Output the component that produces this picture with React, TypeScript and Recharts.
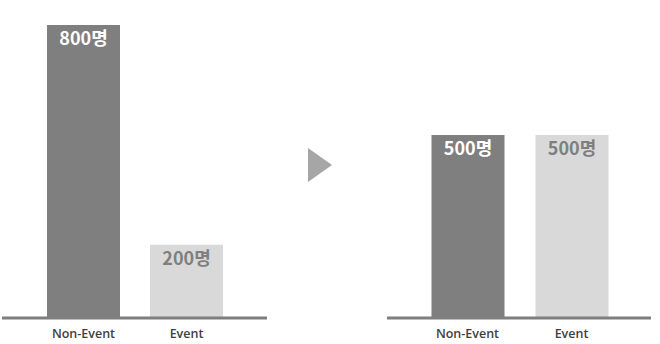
import React from 'react';
import { BarChart, Bar, XAxis, YAxis, Cell, LabelList } from 'recharts';

// Categories and head counts before / after the change
const categories = ['Non-Event', 'Event'];
const beforeValues = [800, 200];
const afterValues = [500, 500];
const unit = '명';

const barColors = ['#7f7f7f', '#d9d9d9'];
const labelColors = ['#ffffff', '#7f7f7f'];

const VALUE_FONT = '"Noto Sans CJK KR", "Noto Sans", sans-serif';
const TICK_FONT = '"Open Sans", "Noto Sans CJK KR", sans-serif';

const buildRows = (values: number[]) =>
  categories.map((name, i) => ({ name, value: values[i] }));

const ValueLabel = (props: any) => {
  const { x, y, width, index, value } = props;
  return (
    <text
      x={x + width / 2}
      y={y + 20}
      textAnchor="middle"
      fill={labelColors[index]}
      fontFamily={VALUE_FONT}
      fontWeight={700}
      fontSize={18}
    >
      {`${value}${unit}`}
    </text>
  );
};

type PanelProps = {
  values: number[];
  left: number;
  width: number;
  padLeft: number;
  padRight: number;
};

const Panel = ({ values, left, width, padLeft, padRight }: PanelProps) => (
  <div style={{ position: 'absolute', left, top: 0 }}>
    <BarChart
      width={width}
      height={344}
      data={buildRows(values)}
      margin={{ top: 25, right: 0, bottom: 0, left: 0 }}
      barSize={73}
    >
      <YAxis hide domain={[0, 800]} />
      <XAxis
        dataKey="name"
        height={26}
        axisLine={{ stroke: '#7f7f7f', strokeWidth: 3 }}
        tickLine={false}
        tickSize={0}
        tickMargin={11}
        padding={{ left: padLeft, right: padRight }}
        tick={{ fill: '#404040', fontSize: 12.5, fontWeight: 600, fontFamily: TICK_FONT }}
        interval={0}
      />
      <Bar dataKey="value" isAnimationActive={false}>
        {values.map((_, i) => (
          <Cell key={i} fill={barColors[i]} />
        ))}
        <LabelList dataKey="value" content={ValueLabel} />
      </Bar>
    </BarChart>
  </div>
);

export default function App() {
  return (
    <div style={{ position: 'absolute', left: 0, top: 0, width: 660, height: 344, background: '#ffffff' }}>
      <Panel values={beforeValues} left={2} width={265} padLeft={30} padRight={29} />
      <svg
        style={{ position: 'absolute', left: 308, top: 148 }}
        width={25}
        height={35}
      >
        <polygon points="0,0 24,17 0,34" fill="#a6a6a6" />
      </svg>
      <Panel values={afterValues} left={387} width={264} padLeft={28.5} padRight={27.5} />
    </div>
  );
}
